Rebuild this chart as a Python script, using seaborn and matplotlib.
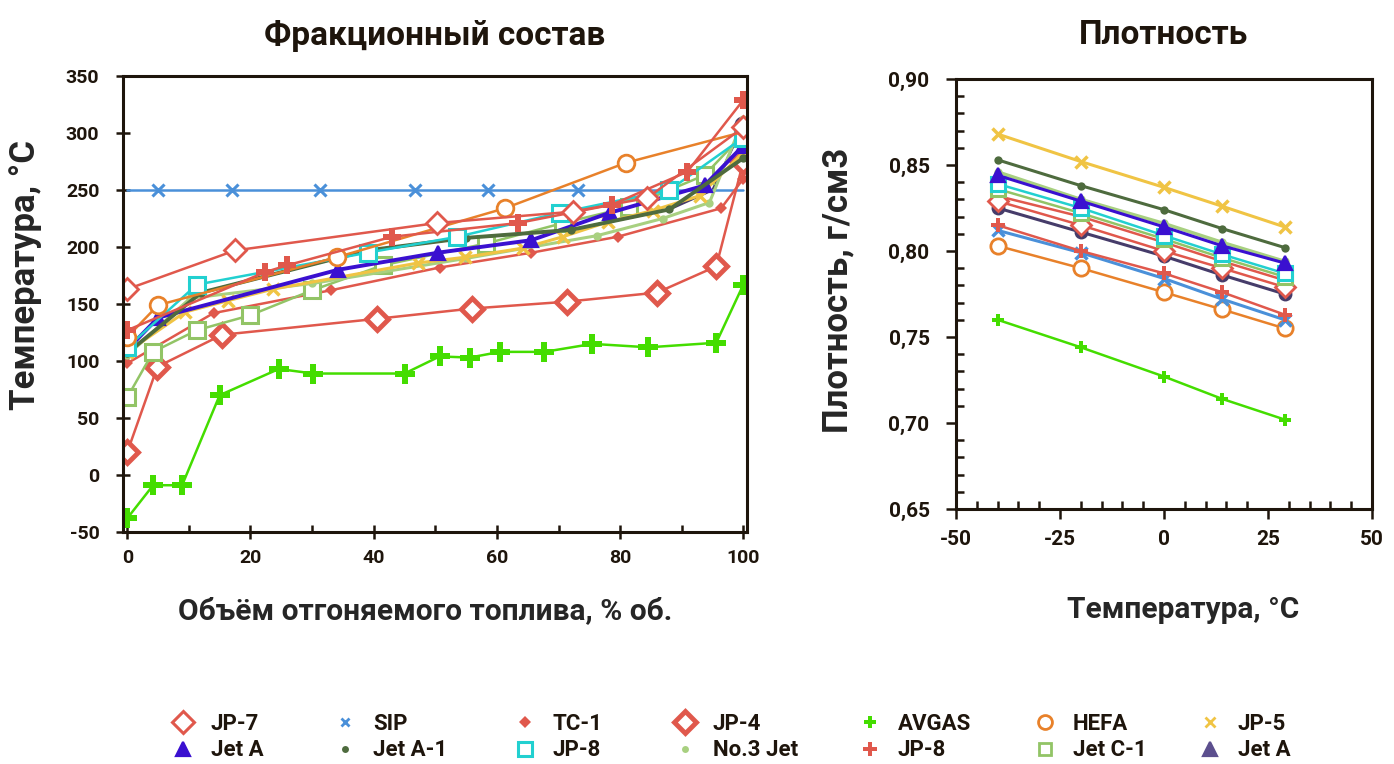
import matplotlib
matplotlib.use('Agg')
import matplotlib.pyplot as plt
from matplotlib.lines import Line2D
from matplotlib.ticker import MultipleLocator, FuncFormatter
import seaborn as sns

# --- Фракционный состав: объём отгона (% об.) -> температура (°C)
jp7_vol = [0, 17.5, 50.2, 72.3, 84.4, 100]
jp7_t = [163, 197, 221, 231, 243, 305]
sip_vol = [0, 5, 17, 31.3, 46.7, 58.5, 73.1, 100]
sip_t = [250, 250, 250, 250, 250, 250, 250, 250]
tc1_vol = [0, 14, 33, 50.7, 65.6, 79.6, 96.4, 100]
tc1_t = [98, 142, 162, 182, 195, 209, 234, 260]
jp4_vol = [0, 4.9, 15.4, 40.5, 55.9, 71.3, 86, 95.6, 100]
jp4_t = [20, 95, 123, 137, 146, 152, 160, 183, 275]
avgas_vol = [0, 4.2, 8.9, 15, 24.6, 30.2, 45, 50.7, 55.6, 60.5, 67.7, 75.5, 84.6, 95.6, 100]
avgas_t = [-38, -9, -9, 70, 93, 89, 89, 104, 103, 108, 108, 115, 112, 116, 167]
hefa_vol = [0, 5, 34, 61.3, 81, 100]
hefa_t = [121, 149, 191, 234, 274, 301]
jp5_vol = [0, 9.4, 16.4, 23.6, 47.2, 54.8, 64.2, 70.7, 78, 85.3, 92.9, 100]
jp5_t = [108, 143, 153, 163, 186, 191, 199, 209, 222, 232, 245, 283]
jeta_vol = [0, 5, 34.2, 50.4, 65.6, 78.3, 93.7, 100]
jeta_t = [110, 138, 180, 195, 206, 230, 254, 289]
jeta1_vol = [0, 12, 39, 55, 72, 88, 100]
jeta1_t = [107, 160, 197, 208, 215, 233, 278]
jp8c_vol = [0, 11.3, 39, 53.6, 70.2, 88, 100]
jp8c_t = [112, 167, 195, 209, 230, 250, 296]
no3_vol = [0, 10.2, 30, 55, 76.3, 86.9, 94.5, 100]
no3_t = [105, 155, 168, 190, 210, 225, 239, 312]
jp8r_vol = [0, 22.4, 26, 43, 63.4, 78.6, 90.9, 100]
jp8r_t = [127, 178, 184, 209, 221, 237, 266, 329]
jetc1_vol = [0, 4.2, 11.3, 19.9, 30, 41.5, 58.2, 70.7, 81.4, 93.7, 100]
jetc1_t = [68, 108, 127, 140, 162, 184, 203, 221, 235, 263, 299]
jeta2_vol = [0, 12, 39, 55, 72, 88, 95, 100]
jeta2_t = [107, 160, 197, 208, 215, 233, 250, 307]

# --- Плотность: температура (°C) -> плотность (г/см3)
dens_temp = [-40, -20, 0, 14, 29]
dens_jp5 = [0.868, 0.852, 0.837, 0.826, 0.814]
dens_jeta1 = [0.853, 0.838, 0.824, 0.813, 0.802]
dens_no3 = [0.846, 0.830, 0.816, 0.805, 0.794]
dens_jeta = [0.844, 0.829, 0.814, 0.803, 0.793]
dens_jp8c = [0.839, 0.825, 0.809, 0.798, 0.787]
dens_jetc1 = [0.836, 0.822, 0.807, 0.796, 0.785]
dens_tc1 = [0.832, 0.820, 0.805, 0.794, 0.783]
dens_jp7 = [0.829, 0.815, 0.800, 0.790, 0.779]
dens_jeta2 = [0.825, 0.811, 0.797, 0.786, 0.775]
dens_jp8r = [0.815, 0.800, 0.787, 0.776, 0.763]
dens_sip = [0.812, 0.799, 0.784, 0.772, 0.760]
dens_hefa = [0.803, 0.790, 0.776, 0.766, 0.755]
dens_avgas = [0.760, 0.744, 0.727, 0.714, 0.702]

RED = '#e0584c'
INK = '#1e150c'

sns.set_style('ticks')
plt.rcParams['font.family'] = ['Roboto', 'DejaVu Sans']
plt.rcParams['font.weight'] = 'bold'
plt.rcParams['axes.unicode_minus'] = False
plt.rcParams['text.color'] = INK


def draw(ax, x, y, color, marker, ms, face=None, mew=1.6, lw=1.8, marks=None, z=2):
    sns.lineplot(x=x, y=y, ax=ax, color=color, linewidth=lw, marker=marker,
                 markersize=ms, markerfacecolor=face or color, markeredgecolor=color,
                 markeredgewidth=mew, markevery=marks, estimator=None, sort=False,
                 legend=False, zorder=z)


fig = plt.figure(figsize=(13.94, 7.64), dpi=100)
ax1 = fig.add_axes([0.0882, 0.3037, 0.4477, 0.5968])
ax2 = fig.add_axes([0.6858, 0.3338, 0.2984, 0.5628])

# левый график
draw(ax1, jeta2_vol, jeta2_t, '#463c6a', 'o', 11, face='white', mew=2.2, marks=[7])
draw(ax1, sip_vol, sip_t, '#4a90d9', 'x', 8, mew=2.2, marks=slice(1, -1))
draw(ax1, avgas_vol, avgas_t, '#44dd00', 'P', 15, mew=0)
draw(ax1, jp4_vol, jp4_t, RED, 'D', 11, face='white', mew=3.5)
draw(ax1, tc1_vol, tc1_t, RED, 'D', 6, mew=0)
draw(ax1, jetc1_vol, jetc1_t, '#92c466', 's', 11, face='white', mew=2.2)
draw(ax1, no3_vol, no3_t, '#a8d080', 'o', 6, mew=0, lw=2.2)
draw(ax1, jp5_vol, jp5_t, '#f0c444', 'x', 9, mew=2.5, lw=2.2)
draw(ax1, jeta_vol, jeta_t, '#3a10d0', '^', 10, lw=2.8, marks=slice(1, None))
draw(ax1, jeta1_vol, jeta1_t, '#4e6b3e', 'o', 6, mew=0, lw=2.8)
draw(ax1, jp8c_vol, jp8c_t, '#22d0d0', 's', 12, face='white', mew=2.2)
draw(ax1, hefa_vol, hefa_t, '#e8812a', 'o', 12, face='white', mew=2, marks=slice(0, -1))
draw(ax1, jp8r_vol, jp8r_t, RED, 'P', 13, mew=0)
draw(ax1, jp7_vol, jp7_t, RED, 'D', 11, face='white', mew=2)

ax1.set_xlim(-0.7, 100.6)
ax1.set_ylim(-50, 350)
ax1.xaxis.set_major_locator(MultipleLocator(20))
ax1.xaxis.set_minor_locator(MultipleLocator(10))
ax1.yaxis.set_major_locator(MultipleLocator(50))
ax1.tick_params(axis='x', which='major', direction='inout', length=10, width=1.8,
                colors=INK, labelsize=14, pad=7)
ax1.tick_params(axis='x', which='minor', direction='in', length=5, width=1.8, colors=INK)
ax1.tick_params(axis='y', which='major', direction='inout', length=10, width=1.8,
                colors=INK, labelsize=14, pad=12)
ax1.set_title('Фракционный состав', fontsize=24, fontweight='bold', pad=22)
ax1.set_xlabel('Объём отгоняемого топлива, % об.', fontsize=21.5, fontweight='bold')
ax1.set_ylabel('Температура, °C', fontsize=25, fontweight='bold')
ax1.xaxis.set_label_coords(0.484, -0.143)
ax1.yaxis.set_label_coords(-0.13, 0.564)

# правый график
draw(ax2, dens_temp, dens_avgas, '#44dd00', 'P', 8, mew=0)
draw(ax2, dens_temp, dens_hefa, '#e8812a', 'o', 11, face='white', mew=2)
draw(ax2, dens_temp, dens_sip, '#4a90d9', 'x', 9, mew=2.5, lw=2.2)
draw(ax2, dens_temp, dens_jp8r, RED, 'P', 10, mew=0)
draw(ax2, dens_temp, dens_jeta2, '#463c6a', 'o', 10, mew=0, lw=2.2)
draw(ax2, dens_temp, dens_tc1, RED, 'D', 7, mew=0)
draw(ax2, dens_temp, dens_jp7, RED, 'D', 10, face='white', mew=2)
draw(ax2, dens_temp, dens_jetc1, '#92c466', 's', 10, face='white', mew=2.2)
draw(ax2, dens_temp, dens_jp8c, '#22d0d0', 's', 10, face='white', mew=2.2)
draw(ax2, dens_temp, dens_no3, '#a8d080', 'o', 6, mew=0, lw=2.5)
draw(ax2, dens_temp, dens_jeta, '#3a10d0', '^', 10, lw=2.2)
draw(ax2, dens_temp, dens_jeta1, '#4e6b3e', 'o', 6, mew=0, lw=2.2)
draw(ax2, dens_temp, dens_jp5, '#f0c444', 'x', 9, mew=2.5, lw=2.2)

ax2.set_xlim(-50, 50)
ax2.set_ylim(0.65, 0.90)
ax2.xaxis.set_major_locator(MultipleLocator(25))
ax2.xaxis.set_minor_locator(MultipleLocator(5))
ax2.yaxis.set_major_locator(MultipleLocator(0.05))
ax2.yaxis.set_minor_locator(MultipleLocator(0.01))
ax2.yaxis.set_major_formatter(FuncFormatter(lambda v, p: f'{v:.2f}'.replace('.', ',')))
ax2.tick_params(which='major', direction='out', length=7, width=1.8, colors=INK,
                labelsize=15)
ax2.tick_params(which='minor', direction='in', length=6, width=1.8, colors=INK)
ax2.tick_params(axis='y', which='major', pad=12)
ax2.tick_params(axis='x', which='major', pad=8)
ax2.set_title('Плотность', fontsize=24, fontweight='bold', pad=25)
ax2.set_xlabel('Температура, °C', fontsize=21.5, fontweight='bold')
ax2.set_ylabel('Плотность, г/см3', fontsize=25, fontweight='bold')
ax2.xaxis.set_label_coords(0.546, -0.202)
ax2.yaxis.set_label_coords(-0.243, 0.509)

for ax in (ax1, ax2):
    for s in ax.spines.values():
        s.set_visible(True)
        s.set_color(INK)
        s.set_linewidth(2.2)


def h(color, marker, ms, face=None, mew=1.6):
    return Line2D([], [], linestyle='none', marker=marker, markersize=ms, color=color,
                  markerfacecolor=face or color, markeredgecolor=color, markeredgewidth=mew)


legend_cols = [
    (183, [(h(RED, 'D', 11, 'white', 2.2), 'JP-7'), (h('#3a10d0', '^', 10), 'Jet A')]),
    (345, [(h('#4a90d9', 'x', 6, mew=2), 'SIP'), (h('#4e6b3e', 'o', 5, mew=0), 'Jet A-1')]),
    (525, [(h(RED, 'D', 6, mew=0), 'TC-1'), (h('#22d0d0', 's', 10, 'white', 2.2), 'JP-8')]),
    (685, [(h(RED, 'D', 11, 'white', 3.5), 'JP-4'), (h('#a8d080', 'o', 5, mew=0), 'No.3 Jet')]),
    (870, [(h('#44dd00', 'P', 8, mew=0), 'AVGAS'), (h(RED, 'P', 10, mew=0), 'JP-8')]),
    (1045, [(h('#e8812a', 'o', 10, 'white', 2), 'HEFA'), (h('#92c466', 's', 9, 'white', 2), 'Jet C-1')]),
    (1210, [(h('#f0c444', 'x', 7, mew=2), 'JP-5'), (h('#5c4f8e', '^', 10), 'Jet A')]),
]
for xpix, items in legend_cols:
    fs = 16
    lg = fig.legend([i[0] for i in items], [i[1] for i in items], loc='center left',
                    bbox_to_anchor=((xpix - 0.5 * fs * 1.389) / 1394, 1 - 737 / 764),
                    frameon=False, fontsize=fs, handlelength=1.0, handletextpad=0.75,
                    borderpad=0, labelspacing=0.22, borderaxespad=0)
    for t in lg.get_texts():
        t.set_fontweight('bold')
        t.set_color(INK)

fig.savefig('out.png', dpi=100)
